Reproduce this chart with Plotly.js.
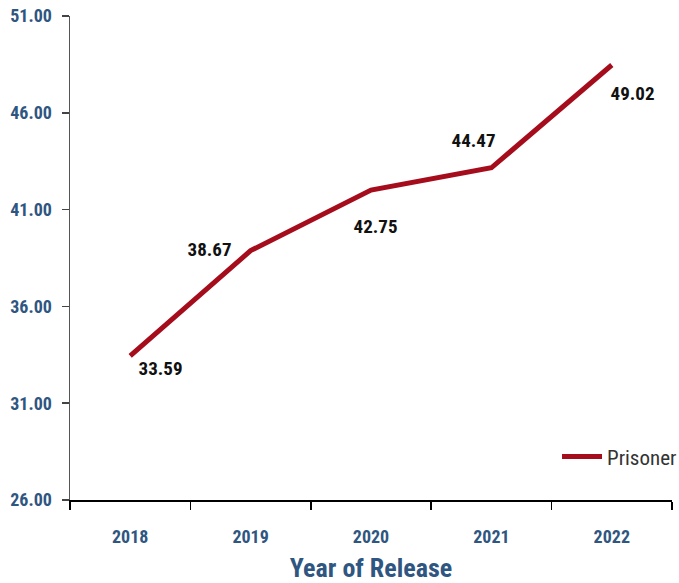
<!DOCTYPE html>
<html>
<head>
<meta charset="utf-8">
<script src="https://cdn.plot.ly/plotly-3.0.1.min.js"></script>
<style>html,body{margin:0;padding:0;background:#fff;}#chart{width:679px;height:583px;}
#chart text{font-stretch:75% !important;}</style>
</head>
<body>
<div id="chart"></div>
<script>
const years = ['2018', '2019', '2020', '2021', '2022'];
const prisonerValues = [33.44, 38.88, 42.01, 43.16, 48.47];
const pointLabels = ['33.59', '38.67', '42.75', '44.47', '49.02'];
const yTicks = [26, 31, 36, 41, 46, 51];
const seriesName = 'Prisoner';

const labelShift = [[30, -13], [-41, 1], [4, -36], [-18, 27], [21, -29]];

const blue = '#2f5681';
const fontFam = 'Roboto, DejaVu Sans, sans-serif';

const annotations = years.map((y, i) => ({
  x: i, y: prisonerValues[i], xref: 'x', yref: 'y',
  text: '<b>' + pointLabels[i] + '</b>', showarrow: false,
  xshift: labelShift[i][0], yshift: labelShift[i][1],
  font: {family: fontFam, size: 19, color: '#111111'}
}));

const trace = {
  x: years, y: prisonerValues, type: 'scatter', mode: 'lines', name: seriesName,
  line: {color: '#a50d1c', width: 5}
};

const layout = {
  width: 679, height: 583,
  margin: {l: 70, r: 7, t: 16, b: 83, autoexpand: false},
  paper_bgcolor: '#fff', plot_bgcolor: '#fff',
  showlegend: true,
  legend: {x: 0.809, xanchor: 'left', y: 0.089, yanchor: 'middle', itemwidth: 40,
    font: {family: fontFam, size: 21, color: '#333'}, bgcolor: 'rgba(0,0,0,0)'},
  xaxis: {
    type: 'category', range: [-0.5, 4.5], tickson: 'boundaries',
    ticks: 'outside', ticklen: 8, tickcolor: '#000', tickwidth: 1.5,
    showline: true, linecolor: '#000', linewidth: 1.5, showgrid: false,
    ticklabelstandoff: 20,
    tickfont: {family: fontFam, size: 18, color: blue, weight: 'bold'},
    title: {text: '<b>Year of Release</b>', font: {family: fontFam, size: 26, color: blue}, standoff: 13}
  },
  yaxis: {
    range: [26, 51], tickvals: yTicks, tickformat: '.2f',
    ticks: 'outside', ticklen: 7, tickcolor: '#444', tickwidth: 1.5,
    showline: true, linecolor: '#555', linewidth: 1.5, showgrid: false, zeroline: false,
    ticklabelstandoff: 6,
    tickfont: {family: fontFam, size: 18, color: blue, weight: 'bold'}
  },
  annotations: annotations
};

Plotly.newPlot('chart', [trace], layout, {displayModeBar: false, staticPlot: true});
</script>
</body>
</html>
